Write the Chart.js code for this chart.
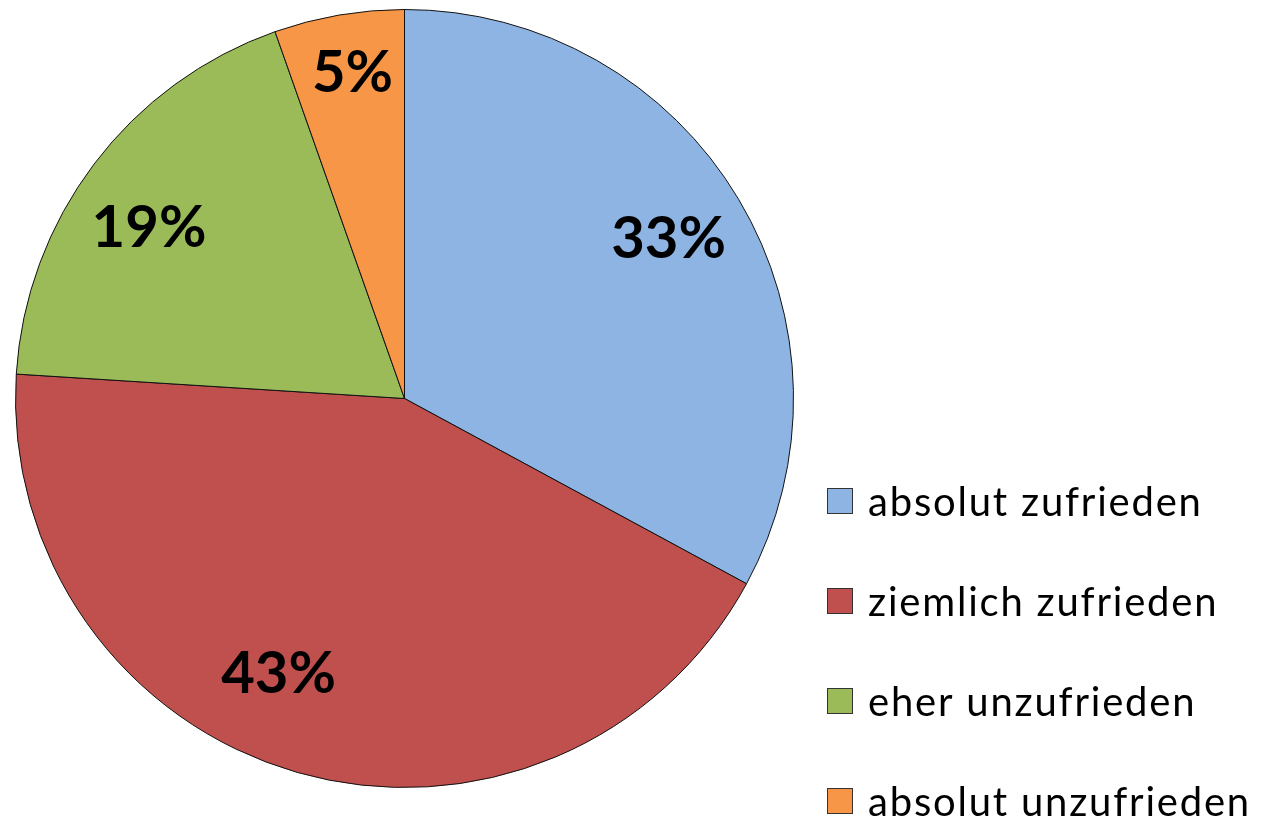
<!DOCTYPE html>
<html>
<head>
<meta charset="utf-8">
<script src="https://cdn.jsdelivr.net/npm/chart.js@4/dist/chart.umd.min.js"></script>
<style>
  html, body { margin: 0; padding: 0; background: #ffffff; }
  #wrap { width: 1274px; height: 822px; position: relative; }
</style>
</head>
<body>
<div id="wrap"><canvas id="c" width="1274" height="822"></canvas></div>
<script>
// ---- data ----
const categories = ['absolut zufrieden', 'ziemlich zufrieden', 'eher unzufrieden', 'absolut unzufrieden'];
const shares = [32.9, 43.1, 18.6, 5.4];
const colors = ['#8EB4E3', '#C0504D', '#9BBB59', '#F79646'];

// label placement (radius fraction, angle shift in degrees) per slice
const labelRadius = [0.796, 0.774, 0.793, 0.852];
const labelShift = [-0.7, 8.7, -3.0, 0.7];

const sliceLabels = {
  id: 'sliceLabels',
  afterDatasetsDraw(chart) {
    const ctx = chart.ctx;
    const meta = chart.getDatasetMeta(0);
    ctx.save();
    ctx.font = 'bold 58px Lato, "Open Sans", sans-serif';
    ctx.fillStyle = '#000000';
    ctx.textAlign = 'center';
    ctx.textBaseline = 'alphabetic';
    const capH = 58 * 0.72;
    meta.data.forEach((arc, i) => {
      const p = arc.getProps(['x', 'y', 'startAngle', 'endAngle', 'outerRadius'], true);
      const mid = (p.startAngle + p.endAngle) / 2 + labelShift[i] * Math.PI / 180;
      const r = p.outerRadius * labelRadius[i];
      const cx = p.x + Math.cos(mid) * r;
      const cy = p.y + Math.sin(mid) * r;
      ctx.fillText(Math.round(shares[i]) + '%', cx, cy + capH / 2);
    });
    ctx.restore();
  }
};

const sideLegend = {
  id: 'sideLegend',
  afterDraw(chart, args, opts) {
    const ctx = chart.ctx;
    const labels = chart.data.labels;
    const bg = chart.data.datasets[0].backgroundColor;
    ctx.save();
    ctx.font = opts.fontSize + 'px Lato, "Open Sans", sans-serif';
    if ('letterSpacing' in ctx) ctx.letterSpacing = opts.spacing + 'px';
    ctx.textAlign = 'left';
    ctx.textBaseline = 'middle';
    labels.forEach((lab, i) => {
      const cy = opts.top + i * opts.step;
      ctx.fillStyle = bg[i];
      ctx.fillRect(opts.left, cy - opts.box / 2, opts.box, opts.box);
      ctx.strokeStyle = '#333333';
      ctx.lineWidth = 1;
      ctx.strokeRect(opts.left + 0.5, cy - opts.box / 2 + 0.5, opts.box - 1, opts.box - 1);
      ctx.fillStyle = '#000000';
      ctx.fillText(lab, opts.textX, cy + 2);
    });
    ctx.restore();
  }
};

new Chart(document.getElementById('c'), {
  type: 'pie',
  data: {
    labels: categories,
    datasets: [{
      data: shares,
      backgroundColor: colors,
      borderColor: '#111111',
      borderWidth: 1
    }]
  },
  options: {
    responsive: false,
    animation: false,
    layout: { padding: { left: 15, top: 9, right: 480, bottom: 34 } },
    plugins: {
      legend: { display: false },
      tooltip: { enabled: false },
      sideLegend: { left: 827, top: 501, step: 100, box: 26, textX: 868, fontSize: 40, spacing: 1.8 }
    }
  },
  plugins: [sliceLabels, sideLegend]
});
</script>
</body>
</html>
